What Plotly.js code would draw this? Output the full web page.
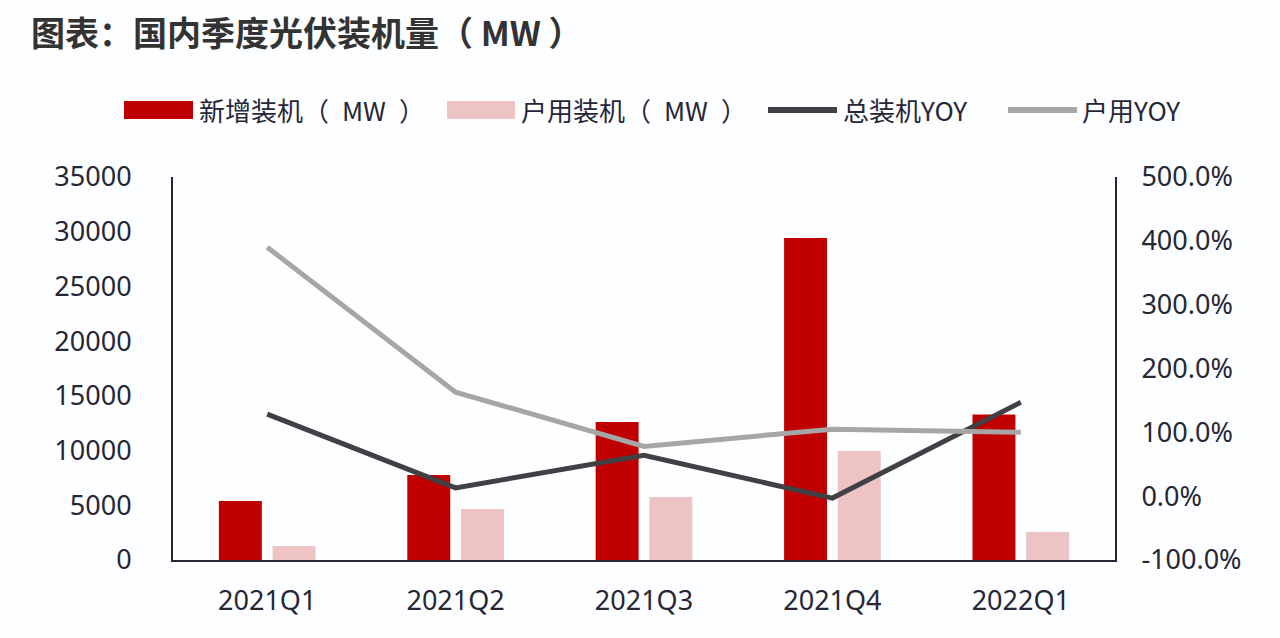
<!DOCTYPE html>
<html>
<head>
<meta charset="utf-8">
<script src="https://cdn.plot.ly/plotly-3.0.1.min.js"></script>
<style>html,body{margin:0;padding:0;background:#fdfeff;}#chart{width:1280px;height:638px;}</style>
</head>
<body>
<div id="chart"></div>
<script>
// Data
const quarters = ['2021Q1', '2021Q2', '2021Q3', '2021Q4', '2022Q1'];
const newInstalled = [5390, 7770, 12610, 29430, 13300];       // 新增装机（MW）
const householdInstalled = [1280, 4660, 5760, 9960, 2560];    // 户用装机（MW）
const totalYoY = [1.285, 0.13, 0.64, -0.03, 1.47];            // 总装机YOY
const householdYoY = [3.90, 1.63, 0.78, 1.05, 1.00];          // 户用YOY
const seriesNames = ['新增装机（\u2002MW\u2002）', '户用装机（\u2002MW\u2002）', '总装机YOY', '户用YOY'];
const leftTicks = [0, 5000, 10000, 15000, 20000, 25000, 30000, 35000];
const leftTickText = ['0', '5000', '10000', '15000', '20000', '25000', '30000', '35000'];
const rightTicks = [-1, 0, 1, 2, 3, 4, 5];
const rightTickText = ['-100.0%', '0.0%', '100.0%', '200.0%', '300.0%', '400.0%', '500.0%'];

const FONT = '"Noto Sans CJK SC", "Noto Sans", sans-serif';
const NUMFONT = '"Noto Sans", "Noto Sans CJK SC", sans-serif';
const TXT = '#262637';
const C_RED = '#C00000', C_PINK = '#EDC3C3', C_DARK = '#404045', C_GRAY = '#A6A6A6';

const traces = [
  {type: 'bar', x: quarters, y: newInstalled, name: seriesNames[0],
   marker: {color: C_RED, line: {width: 0}}, yaxis: 'y'},
  {type: 'bar', x: quarters, y: householdInstalled, name: seriesNames[1],
   marker: {color: C_PINK, line: {width: 0}}, yaxis: 'y'},
  {type: 'scatter', mode: 'lines', x: quarters, y: totalYoY, name: seriesNames[2],
   line: {color: C_DARK, width: 5}, yaxis: 'y2'},
  {type: 'scatter', mode: 'lines', x: quarters, y: householdYoY, name: seriesNames[3],
   line: {color: C_GRAY, width: 5}, yaxis: 'y2'}
];

const W = 1280, H = 638;
const ml = 173, mr = 165, mt = 177, mb = 78;
const pw = W - ml - mr, ph = H - mt - mb;
function px(x) { return (x - ml) / pw; }
function py(y) { return (H - mb - y) / ph; }

const legendItems = [
  {kind: 'rect', color: C_RED, x0: 124, x1: 193, tx: 197, text: seriesNames[0]},
  {kind: 'rect', color: C_PINK, x0: 447, x1: 515, tx: 519, text: seriesNames[1]},
  {kind: 'line', color: C_DARK, x0: 768, x1: 837, tx: 841, text: seriesNames[2]},
  {kind: 'line', color: C_GRAY, x0: 1008, x1: 1077, tx: 1080, text: seriesNames[3]}
];
const shapes = [];
const annotations = [];
const ly = 110;
legendItems.forEach(it => {
  if (it.kind === 'rect') {
    shapes.push({type: 'rect', xref: 'paper', yref: 'paper', x0: px(it.x0), x1: px(it.x1),
      y0: py(ly + 9), y1: py(ly - 9), fillcolor: it.color, line: {width: 0}});
  } else {
    shapes.push({type: 'line', xref: 'paper', yref: 'paper', x0: px(it.x0), x1: px(it.x1),
      y0: py(ly), y1: py(ly), line: {color: it.color, width: 6}});
  }
  annotations.push({xref: 'paper', yref: 'paper', x: px(it.tx), y: py(ly), xanchor: 'left', yanchor: 'middle',
    text: it.text, showarrow: false, font: {family: FONT, size: 26, color: TXT}});
});

const layout = {
  width: W, height: H,
  margin: {l: ml, r: mr, t: mt, b: mb, pad: 0},
  paper_bgcolor: '#fdfeff', plot_bgcolor: '#fdfeff',
  showlegend: false,
  barmode: 'group', bargap: 0.43, bargroupgap: 0.2,
  title: {text: '图表：国内季度光伏装机量（ MW ）', x: 31 / W, xanchor: 'left', xref: 'container',
    y: 1 - 34 / H, yanchor: 'middle', yref: 'container',
    font: {family: FONT, size: 34, color: '#333333', weight: 'bold'}},
  font: {family: FONT, color: TXT},
  xaxis: {type: 'category', showline: true, linecolor: '#262637', linewidth: 2,
    showgrid: false, zeroline: false, ticks: '', ticklabelstandoff: 16,
    tickfont: {family: NUMFONT, size: 27, color: TXT}},
  yaxis: {range: [0, 35000], tickvals: leftTicks, ticktext: leftTickText, showline: true,
    linecolor: '#262637', linewidth: 2, showgrid: false, zeroline: false, ticks: '', ticklabelstandoff: 34,
    tickfont: {family: NUMFONT, size: 27, color: TXT}},
  yaxis2: {range: [-1, 5], tickvals: rightTicks, ticktext: rightTickText, overlaying: 'y', side: 'right',
    showline: true, linecolor: '#262637', linewidth: 2, showgrid: false, zeroline: false, ticks: '',
    ticklabelstandoff: 19, tickfont: {family: NUMFONT, size: 27, color: TXT}},
  shapes: shapes,
  annotations: annotations
};

Plotly.newPlot('chart', traces, layout, {staticPlot: true, displayModeBar: false});
</script>
</body>
</html>
